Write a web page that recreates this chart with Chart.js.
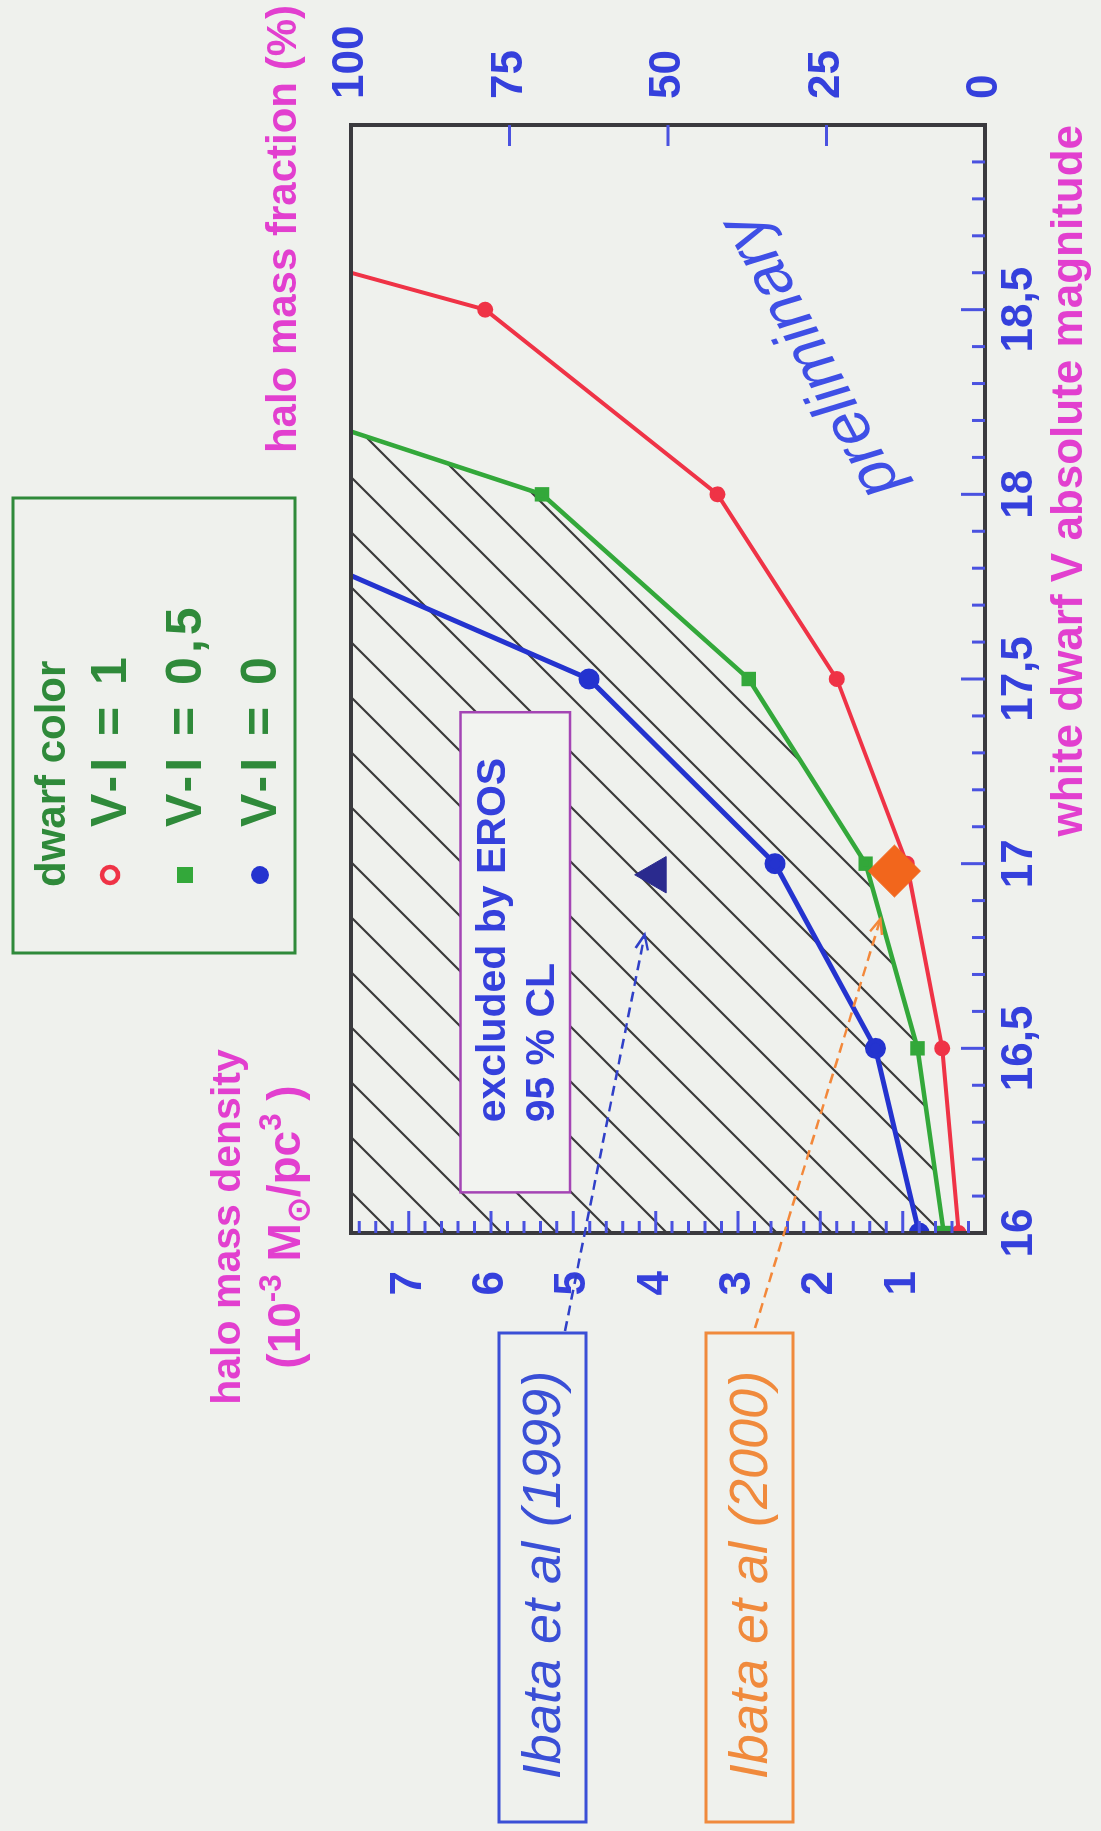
<!DOCTYPE html>
<html>
<head>
<meta charset="utf-8">
<script src="https://cdn.jsdelivr.net/npm/chart.js@4/dist/chart.umd.min.js"></script>
<style>
  html, body { margin: 0; padding: 0; background: #eff1ed; overflow: hidden; width: 1101px; height: 1831px; }
  /* the figure is laid out landscape and turned a quarter turn counter-clockwise */
  #wrap { position: absolute; left: 0; top: 0; width: 1831px; height: 1101px;
          transform-origin: 0 0; transform: translateY(1831px) rotate(-90deg); }
  canvas { display: block; }
</style>
</head>
<body>
<div id="wrap"><canvas id="c" width="1831" height="1101"></canvas></div>
<script>
// ---- axes ----
const magTicks = [16, 16.5, 17, 17.5, 18, 18.5];
const magTickLabels = ['16', '16,5', '17', '17,5', '18', '18,5'];
const densityTicks = [1, 2, 3, 4, 5, 6, 7];
const fractionTicks = [0, 25, 50, 75, 100];
const magMin = 16, magMax = 19;
const densityMax = 7.7;          // density equal to 100 % of the halo

// ---- series: white dwarf V magnitude vs halo mass density (1e-3 Msun/pc^3) ----
// the last point of each curve is where it leaves the frame
const seriesLabels = ['V-I = 1', 'V-I = 0,5', 'V-I = 0'];
const magRed   = [16, 16.5, 17, 17.5, 18, 18.5, 18.6];
const densRed  = [0.32, 0.52, 0.95, 1.80, 3.25, 6.07, 7.7];
const magGreen = [16, 16.5, 17, 17.5, 18, 18.17];
const densGreen = [0.50, 0.82, 1.45, 2.87, 5.38, 7.7];
const magBlue  = [16, 16.5, 17, 17.5, 17.78];
const densBlue = [0.80, 1.33, 2.55, 4.81, 7.7];

// ---- measurements ----
const ibata1999 = [16.97, 4.0];
const ibata2000 = [16.98, 1.1];

// ---- styling ----
const FONT = "'Liberation Sans', Arial, sans-serif";
const BLUE_TXT = '#3540dc';
const MAGENTA = '#e23fcf';
const RED = '#ef3346', GREEN = '#33a83a', BLUE = '#2433cf';
const LEGEND_GREEN = '#2f8a3a';
const ORANGE = '#f2661c';
const NAVY = '#2a2a8e';

function pts(xs, ys) { return xs.map((x, i) => ({ x: x, y: ys[i] })); }
function radii(n, r) { return Array.from({ length: n }, (_, i) => i === n - 1 ? 0 : r); }

// diagonal hatching for the excluded region
function hatch() {
  const s = 55, c = document.createElement('canvas');
  c.width = s; c.height = s;
  const g = c.getContext('2d');
  g.strokeStyle = '#3b3b3b'; g.lineWidth = 2.2;
  g.beginPath();
  g.moveTo(-2, s + 2); g.lineTo(s + 2, -2);
  g.moveTo(-2, 2); g.lineTo(2, -2);
  g.moveTo(s - 2, s + 2); g.lineTo(s + 2, s - 2);
  g.stroke();
  return g.createPattern(c, 'repeat');
}

const datasets = [
  { label: 'Ibata et al (2000)', data: pts([ibata2000[0]], [ibata2000[1]]), showLine: false,
    pointStyle: 'rectRot', pointRadius: 26, backgroundColor: ORANGE, borderColor: ORANGE, borderWidth: 1 },
  { label: 'Ibata et al (1999)', data: pts([ibata1999[0]], [ibata1999[1]]), showLine: false,
    pointStyle: 'triangle', pointRadius: 21, backgroundColor: NAVY, borderColor: NAVY, borderWidth: 1 },
  { label: seriesLabels[0], data: pts(magRed, densRed), borderColor: RED, borderWidth: 4,
    pointStyle: 'circle', pointRadius: radii(magRed.length, 6), pointBackgroundColor: RED, pointBorderColor: RED, fill: false },
  { label: seriesLabels[1], data: pts(magGreen, densGreen), borderColor: GREEN, borderWidth: 4.5,
    pointStyle: 'rect', pointRadius: radii(magGreen.length, 7), pointBackgroundColor: GREEN, pointBorderColor: GREEN,
    fill: 'end', backgroundColor: hatch() },
  { label: seriesLabels[2], data: pts(magBlue, densBlue), borderColor: BLUE, borderWidth: 5,
    pointStyle: 'circle', pointRadius: radii(magBlue.length, 8), pointBackgroundColor: BLUE, pointBorderColor: BLUE, fill: false }
];

const tickFont = { family: FONT, size: 44, weight: 'bold' };

// text drawn with sub/superscript runs
function richText(ctx, parts, cx, baseY, size) {
  const k = 0.68;
  let w = 0;
  parts.forEach(p => { ctx.font = 'bold ' + (p.s ? size * k : size) + 'px ' + FONT; w += ctx.measureText(p.t).width; });
  let x = cx - w / 2;
  parts.forEach(p => {
    const sz = p.s ? size * k : size;
    ctx.font = 'bold ' + sz + 'px ' + FONT;
    const dy = p.s === 'sup' ? -size * 0.42 : p.s === 'sub' ? size * 0.2 : 0;
    ctx.textAlign = 'left'; ctx.textBaseline = 'alphabetic';
    ctx.fillText(p.t, x, baseY + dy);
    x += ctx.measureText(p.t).width;
  });
}

function dashedArrow(ctx, x0, y0, x1, y1, color) {
  ctx.save();
  ctx.strokeStyle = color; ctx.lineWidth = 2.5; ctx.setLineDash([10, 6]);
  ctx.beginPath(); ctx.moveTo(x0, y0); ctx.lineTo(x1, y1); ctx.stroke();
  ctx.setLineDash([]);
  const a = Math.atan2(y1 - y0, x1 - x0), h = 16;
  ctx.beginPath();
  ctx.moveTo(x1 - h * Math.cos(a - 0.4), y1 - h * Math.sin(a - 0.4));
  ctx.lineTo(x1, y1);
  ctx.lineTo(x1 - h * Math.cos(a + 0.4), y1 - h * Math.sin(a + 0.4));
  ctx.stroke();
  ctx.restore();
}

const decorations = {
  id: 'decorations',
  beforeDraw(chart) {
    const ctx = chart.ctx;
    ctx.save(); ctx.fillStyle = '#eff1ed'; ctx.fillRect(0, 0, chart.width, chart.height); ctx.restore();
  },
  afterDatasetsDraw(chart) {
    const { ctx, chartArea: a, scales } = chart;
    const x = scales.x, y = scales.y, y1 = scales.y1;
    ctx.save();

    // "excluded by EROS" box
    const bx0 = x.getPixelForValue(16.11), bx1 = x.getPixelForValue(17.41);
    const by0 = y.getPixelForValue(6.37), by1 = y.getPixelForValue(5.04);
    ctx.fillStyle = '#f2f3f0';
    ctx.fillRect(bx0, by0, bx1 - bx0, by1 - by0);
    ctx.strokeStyle = '#a445b4'; ctx.lineWidth = 2.5;
    ctx.strokeRect(bx0, by0, bx1 - bx0, by1 - by0);
    ctx.fillStyle = BLUE_TXT; ctx.font = 'bold 41px ' + FONT;
    ctx.textAlign = 'left'; ctx.textBaseline = 'alphabetic';
    ctx.fillText('excluded by EROS', bx0 + 70, by0 + 44);
    ctx.fillText('95 % CL', bx0 + 70, by0 + 93);

    // frame
    ctx.strokeStyle = '#3a3a3e'; ctx.lineWidth = 4;
    ctx.strokeRect(a.left, a.top, a.right - a.left, a.bottom - a.top);

    // inward ticks
    ctx.strokeStyle = '#4a52e0'; ctx.lineWidth = 3;
    ctx.beginPath();
    for (let k = 1; k < Math.round((magMax - magMin) * 10); k++) {
      const v = magMin + k / 10, px = x.getPixelForValue(v);
      const len = k % 5 === 0 ? 24 : 13;
      ctx.moveTo(px, a.bottom); ctx.lineTo(px, a.bottom - len);
    }
    for (let k = 1; k * 0.2 < densityMax; k++) {
      const py = y.getPixelForValue(k * 0.2);
      const len = k % 5 === 0 ? 22 : 12;
      ctx.moveTo(a.left, py); ctx.lineTo(a.left + len, py);
    }
    fractionTicks.forEach(v => {
      if (v === 0 || v === 100) return;
      const py = y1.getPixelForValue(v);
      ctx.moveTo(a.right, py); ctx.lineTo(a.right - 21, py);
    });
    ctx.stroke();

    // arrows from the reference boxes to the measurements
    const p99 = chart.getDatasetMeta(1).data[0], p00 = chart.getDatasetMeta(0).data[0];
    dashedArrow(ctx, 500, 565, p99.x - 60, p99.y - 11, '#3040c8');
    dashedArrow(ctx, 503, 755, p00.x - 48, p00.y - 14, '#f3883a');
    ctx.restore();
  },
  afterDraw(chart) {
    const { ctx, chartArea: a } = chart;
    ctx.save();

    // right axis title
    ctx.fillStyle = MAGENTA; ctx.font = 'bold 42px ' + FONT;
    ctx.textAlign = 'right'; ctx.textBaseline = 'alphabetic';
    ctx.fillText('halo mass fraction (%)', 1826, 296);

    // left axis title
    ctx.textAlign = 'center';
    ctx.font = 'bold 41px ' + FONT;
    ctx.fillText('halo mass density', a.left + 6, 240);
    richText(ctx, [
      { t: '(10' }, { t: '-3', s: 'sup' }, { t: ' M' }, { t: '\u2299', s: 'sub' },
      { t: '/pc' }, { t: '3', s: 'sup' }, { t: ' )' }
    ], a.left + 6, 300, 46);

    // legend
    ctx.strokeStyle = LEGEND_GREEN; ctx.lineWidth = 3;
    ctx.strokeRect(878, 13, 455, 282);
    ctx.fillStyle = LEGEND_GREEN; ctx.textAlign = 'left'; ctx.textBaseline = 'alphabetic';
    ctx.font = 'bold 42px ' + FONT;
    ctx.fillText('dwarf color', 944, 65);
    const rows = [110, 185, 260];
    const ds = chart.data.datasets;
    [2, 3, 4].forEach((di, r) => {
      const d = ds[di], cy = rows[r], cx = 956;
      ctx.save();
      if (r === 0) {
        ctx.strokeStyle = d.borderColor; ctx.lineWidth = 4.5;
        ctx.beginPath(); ctx.arc(cx, cy, 8, 0, Math.PI * 2); ctx.stroke();
      } else if (r === 1) {
        ctx.fillStyle = d.pointBackgroundColor; ctx.fillRect(cx - 8, cy - 8, 16, 16);
      } else {
        ctx.fillStyle = d.pointBackgroundColor;
        ctx.beginPath(); ctx.arc(cx, cy, 9, 0, Math.PI * 2); ctx.fill();
      }
      ctx.restore();
      ctx.save();
      ctx.fillStyle = LEGEND_GREEN; ctx.font = 'bold 50px ' + FONT;
      ctx.textBaseline = 'middle';
      ctx.letterSpacing = '4px';
      ctx.fillText(d.label, 1004, cy + 2);
      ctx.restore();
    });

    // reference boxes
    const boxes = [
      { text: ds[1].label, color: '#3a4fd6', y0: 499, y1: 586 },
      { text: ds[0].label, color: '#f08a3c', y0: 706, y1: 793 }
    ];
    boxes.forEach(b => {
      ctx.strokeStyle = b.color; ctx.lineWidth = 3;
      ctx.strokeRect(9, b.y0, 489, b.y1 - b.y0);
      ctx.fillStyle = b.color; ctx.font = 'italic 54px ' + FONT;
      ctx.textAlign = 'center'; ctx.textBaseline = 'middle';
      ctx.fillText(b.text, 256, (b.y0 + b.y1) / 2 + 2);
    });

    // preliminary
    ctx.save();
    ctx.translate(1475, 812); ctx.rotate(-28 * Math.PI / 180);
    ctx.fillStyle = '#3f4fe6'; ctx.font = 'italic 64px ' + FONT;
    ctx.textAlign = 'center'; ctx.textBaseline = 'middle';
    ctx.fillText('preliminary', 0, 0);
    ctx.restore();

    ctx.restore();
  }
};

new Chart(document.getElementById('c'), {
  type: 'line',
  data: { datasets: datasets },
  options: {
    responsive: false,
    animation: false,
    devicePixelRatio: 1,
    layout: { padding: { top: 351, left: 0, right: 0, bottom: 0 } },
    plugins: {
      legend: { display: false },
      tooltip: { enabled: false },
      filler: { drawTime: 'beforeDatasetsDraw' }
    },
    scales: {
      x: {
        type: 'linear', position: 'bottom', min: magMin, max: magMax,
        afterBuildTicks: s => { s.ticks = magTicks.map(v => ({ value: v })); },
        afterFit: s => { s.height = 116; },
        grid: { display: false, drawTicks: false },
        border: { display: false },
        ticks: {
          autoSkip: false, maxRotation: 0, padding: 8, color: BLUE_TXT, font: tickFont,
          callback: v => { const i = magTicks.indexOf(v); return i < 0 ? '' : magTickLabels[i]; }
        },
        title: {
          display: true, text: 'white dwarf V absolute magnitude', align: 'end', color: MAGENTA,
          font: { family: FONT, size: 44, weight: 'bold' }, padding: { top: 0, bottom: 5 }
        }
      },
      y: {
        type: 'linear', position: 'left', min: 0, max: densityMax,
        afterBuildTicks: s => { s.ticks = densityTicks.map(v => ({ value: v })); },
        afterFit: s => { s.width = 598; },
        grid: { display: false, drawTicks: false },
        border: { display: false },
        ticks: { padding: 38, color: BLUE_TXT, font: tickFont, callback: v => String(v) }
      },
      y1: {
        type: 'linear', position: 'right', min: 0, max: 100,
        afterBuildTicks: s => { s.ticks = fractionTicks.map(v => ({ value: v })); },
        afterFit: s => { s.width = 125; },
        grid: { display: false, drawTicks: false },
        border: { display: false },
        ticks: { padding: 26, color: BLUE_TXT, font: tickFont, callback: v => String(v) }
      }
    }
  },
  plugins: [decorations]
});
</script>
</body>
</html>
